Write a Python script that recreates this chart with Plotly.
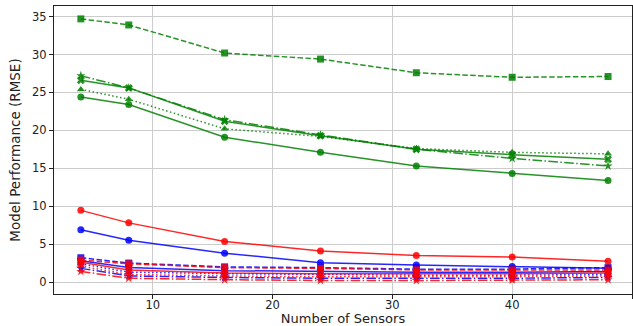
import plotly.graph_objects as go

sensors = [4, 8, 16, 24, 32, 40, 48]

green_circle = [24.4, 23.4, 19.1, 17.1, 15.3, 14.3, 13.4]
green_square = [34.7, 33.9, 30.2, 29.4, 27.6, 27.0, 27.1]
green_triangle = [25.4, 24.1, 20.2, 19.2, 17.6, 17.1, 16.9]
green_star = [27.2, 25.6, 21.4, 19.4, 17.5, 16.3, 15.3]
green_x = [26.6, 25.6, 21.2, 19.3, 17.5, 16.8, 16.2]

blue_circle = [6.9, 5.5, 3.8, 2.55, 2.25, 2.05, 1.8]
blue_square = [3.2, 2.5, 2.0, 1.9, 1.7, 1.7, 1.9]
blue_triangle = [2.4, 1.3, 1.1, 1.0, 0.9, 0.9, 1.0]
blue_star = [1.8, 0.8, 0.6, 0.5, 0.5, 0.5, 0.6]
blue_x = [2.8, 1.9, 1.5, 1.4, 1.3, 1.3, 1.4]

red_circle = [9.45, 7.8, 5.35, 4.1, 3.5, 3.3, 2.75]
red_square = [2.9, 2.4, 1.9, 1.8, 1.6, 1.6, 1.6]
red_triangle = [2.1, 1.0, 0.8, 0.7, 0.7, 0.7, 0.8]
red_star = [1.4, 0.5, 0.3, 0.2, 0.2, 0.25, 0.3]
red_x = [2.6, 1.6, 1.2, 1.1, 1.1, 1.1, 1.2]

x_ticks = [10, 20, 30, 40, 50]
y_ticks = [0, 5, 10, 15, 20, 25, 30, 35]

colors = {"green": "rgba(0,128,0,0.85)", "blue": "rgba(0,0,255,0.85)", "red": "rgba(255,0,0,0.85)"}
styles = {
    "circle": ("solid", "circle"),
    "square": ("5.5px,2.4px", "square"),
    "triangle": ("1.5px,2.5px", "triangle-up"),
    "star": ("9.6px,2.4px,1.5px,2.4px", "star"),
    "x": ("solid", "x"),
}
series = [
    ("green", "circle", green_circle), ("green", "square", green_square),
    ("green", "triangle", green_triangle), ("green", "star", green_star),
    ("green", "x", green_x),
    ("blue", "circle", blue_circle), ("blue", "square", blue_square),
    ("blue", "triangle", blue_triangle), ("blue", "star", blue_star),
    ("blue", "x", blue_x),
    ("red", "circle", red_circle), ("red", "square", red_square),
    ("red", "triangle", red_triangle), ("red", "star", red_star),
    ("red", "x", red_x),
]

fig = go.Figure()
for col, sty, vals in series:
    dash, sym = styles[sty]
    fig.add_trace(go.Scatter(
        x=sensors, y=vals, mode="lines+markers",
        line=dict(color=colors[col], width=1.5, dash=dash),
        marker=dict(color=colors[col], symbol=sym, size=7, line=dict(width=0)),
        showlegend=False,
    ))

axis_common = dict(
    showline=True, linecolor="#222", linewidth=1, mirror=True,
    showgrid=True, gridcolor="#cccccc", gridwidth=1,
    zeroline=False, automargin=False,
    tickfont=dict(family="DejaVu Sans", size=11.5, color="#222"),
)
fig.update_xaxes(range=[1.76, 50.0], tickvals=x_ticks, ticks="",
                 minor=dict(tickvals=x_ticks, ticks="outside", ticklen=4,
                            tickcolor="#222", showgrid=False),
                 title=dict(text="Number of Sensors", standoff=7,
                            font=dict(family="DejaVu Sans", size=13, color="#222")),
                 **axis_common)
fig.update_yaxes(range=[-1.58, 36.4], tickvals=y_ticks,
                 ticks="outside", ticklen=4, tickcolor="#222",
                 title=dict(text="Model Performance (RMSE)", standoff=8,
                            font=dict(family="DejaVu Sans", size=13.5, color="#222")),
                 **axis_common)
fig.update_layout(
    width=633, height=326,
    margin=dict(l=54, r=1, t=6, b=32),
    plot_bgcolor="white", paper_bgcolor="white",
)
fig.write_html("out.html", config={"displayModeBar": False},
               post_script="document.body.style.margin='0';document.body.style.overflow='hidden';")
